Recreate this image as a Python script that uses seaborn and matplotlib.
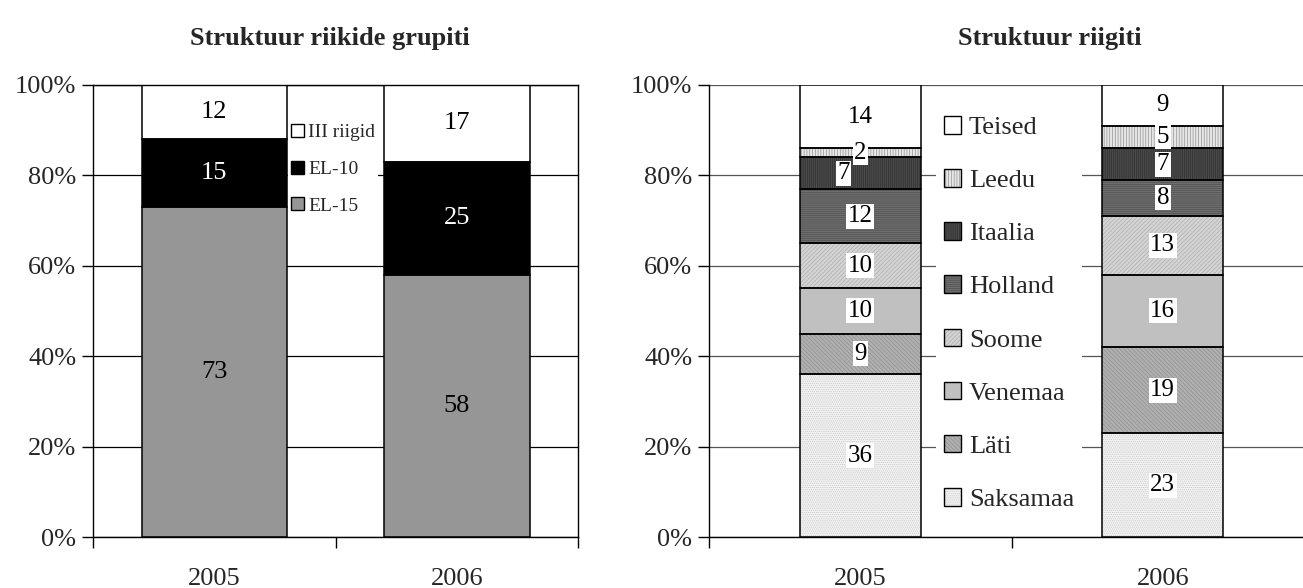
'''two stacked share charts: by country group and by country'''
import numpy as np
import pandas as pd
import seaborn as sns
import matplotlib.pyplot as plt
from matplotlib.patches import Patch
from matplotlib.legend_handler import HandlerTuple
from matplotlib.ticker import PercentFormatter

#region data
years = ['2005', '2006']

group_names = ['EL-15', 'EL-10', 'III riigid']
el15 = [73, 58]
el10 = [15, 25]
third = [12, 17]
group_series = [el15, el10, third]

country_names = ['Saksamaa', 'Läti', 'Venemaa', 'Soome', 'Holland', 'Itaalia', 'Leedu', 'Teised']
saksamaa = [36, 23]
lati = [9, 19]
venemaa = [10, 16]
soome = [10, 13]
holland = [12, 8]
itaalia = [7, 7]
leedu = [2, 5]
teised = [14, 9]
country_series = [saksamaa, lati, venemaa, soome, holland, itaalia, leedu, teised]
#endregion

#region styles
group_face = ['#969696', '#000000', '#FFFFFF']
group_txt = ['black', 'white', 'black']

country_face = ['#F2F2F2', '#B0B0B0', '#C0C0C0', '#D4D4D4', '#6E6E6E', '#4A4A4A', '#E6E6E6', '#FFFFFF']
country_hatch = ['........', '\\\\\\\\\\\\\\\\', None, '////////', '--------', '||||||||', '||||||', None]
country_hcol = ['#C4C4C4', '#8C8C8C', '#C0C0C0', '#AAAAAA', '#4E4E4E', '#2C2C2C', '#8A8A8A', '#FFFFFF']
label_dx = {('Itaalia', '2005'): -0.055}
#endregion

sns.set_theme(style='white')
plt.rcParams['font.family'] = ['Liberation Serif', 'DejaVu Serif']
plt.rcParams['hatch.linewidth'] = 0.45

fig = plt.figure(figsize=(13.03, 5.88), dpi=100)
ax_l = fig.add_axes([93 / 1303, 1 - 537 / 588, 485 / 1303, 452 / 588])
ax_r = fig.add_axes([709 / 1303, 1 - 537 / 588, 605 / 1303, 452 / 588])


def stacked(ax, names, series, faces, hatches, hcols, width, boxed, txtcols, fs):
    '''draw stacked bars with centred value labels, return legend handles'''
    bottom = np.zeros(len(years))
    handles = []
    for i, (name, vals) in enumerate(zip(names, series)):
        df = pd.DataFrame({'year': years, 'share': vals})
        sns.barplot(data=df, x='year', y='share', bottom=bottom, width=width,
                    color=faces[i], saturation=1, hatch=hatches[i], edgecolor=hcols[i],
                    linewidth=0, errorbar=None, ax=ax, zorder=2)
        sns.barplot(data=df, x='year', y='share', bottom=bottom, width=width,
                    color='black', fill=False, linewidth=1.1, errorbar=None, ax=ax, zorder=3)
        for j, v in enumerate(vals):
            kw = {}
            if boxed:
                kw['bbox'] = dict(facecolor='white', edgecolor='none', pad=1.0)
            ax.text(j + label_dx.get((name, years[j]), 0), bottom[j] + v / 2, str(v),
                    ha='center', va='center', fontsize=fs, color=txtcols[i], zorder=5, **kw)
        bottom = bottom + np.array(vals)
        handles.append((Patch(facecolor=faces[i], hatch=hatches[i], edgecolor=hcols[i], linewidth=0),
                        Patch(fill=False, edgecolor='black', linewidth=1)))
    return handles


h_l = stacked(ax_l, group_names, group_series, group_face, [None] * 3, group_face,
              0.6, False, group_txt, 19)
h_r = stacked(ax_r, country_names, country_series, country_face, country_hatch, country_hcol,
              0.4, True, ['black'] * 8, 18)

for ax, gcol in [(ax_l, '#000000'), (ax_r, '#555555')]:
    ax.set_ylim(0, 100)
    ax.set_xlim(-0.5, 1.5)
    ax.set_yticks(np.arange(0, 101, 20))
    ax.yaxis.set_major_formatter(PercentFormatter(decimals=0))
    ax.set_xticks([-0.5, 0.5, 1.5], minor=True)
    ax.set_xlabel('')
    ax.set_ylabel('')
    ax.grid(axis='y', color=gcol, linewidth=0.9, zorder=0)
    ax.set_axisbelow(True)
    ax.tick_params(axis='y', which='major', direction='out', length=8, width=1, color='black',
                   labelsize=19, pad=4, left=True)
    ax.tick_params(axis='x', which='major', length=0, labelsize=19, pad=22)
    ax.tick_params(axis='x', which='minor', direction='out', length=8, width=1, color='black', bottom=True)
    for s in ax.spines.values():
        s.set_color('black')
        s.set_linewidth(1)
ax_r.spines['top'].set_visible(False)
ax_r.spines['right'].set_visible(False)

leg_l = ax_l.legend(h_l[::-1], group_names[::-1], handler_map={tuple: HandlerTuple(ndivide=1)},
                    loc='upper left', bbox_to_anchor=(288 / 1303, 1 - 121 / 588),
                    bbox_transform=fig.transFigure, frameon=True, fancybox=False, framealpha=1,
                    facecolor='white', edgecolor='none', fontsize=14, handlelength=0.65,
                    handleheight=0.65, handletextpad=0.25, labelspacing=1.0, borderpad=0.15,
                    borderaxespad=0)
leg_r = ax_r.legend(h_r[::-1], country_names[::-1], handler_map={tuple: HandlerTuple(ndivide=1)},
                    loc='upper left', bbox_to_anchor=(936 / 1303, 1 - 108 / 588),
                    bbox_transform=fig.transFigure, frameon=True, fancybox=False, framealpha=1,
                    facecolor='white', edgecolor='none', fontsize=19, handlelength=0.65,
                    handleheight=0.65, handletextpad=0.3, labelspacing=1.14, borderpad=0.3,
                    borderaxespad=0)

fig.text(330 / 1303, 1 - 38 / 588, 'Struktuur riikide grupiti', ha='center', va='center',
         fontsize=19, fontweight='bold')
fig.text(1050 / 1303, 1 - 38 / 588, 'Struktuur riigiti', ha='center', va='center',
         fontsize=19, fontweight='bold')

fig.savefig('out.png', dpi=100)
